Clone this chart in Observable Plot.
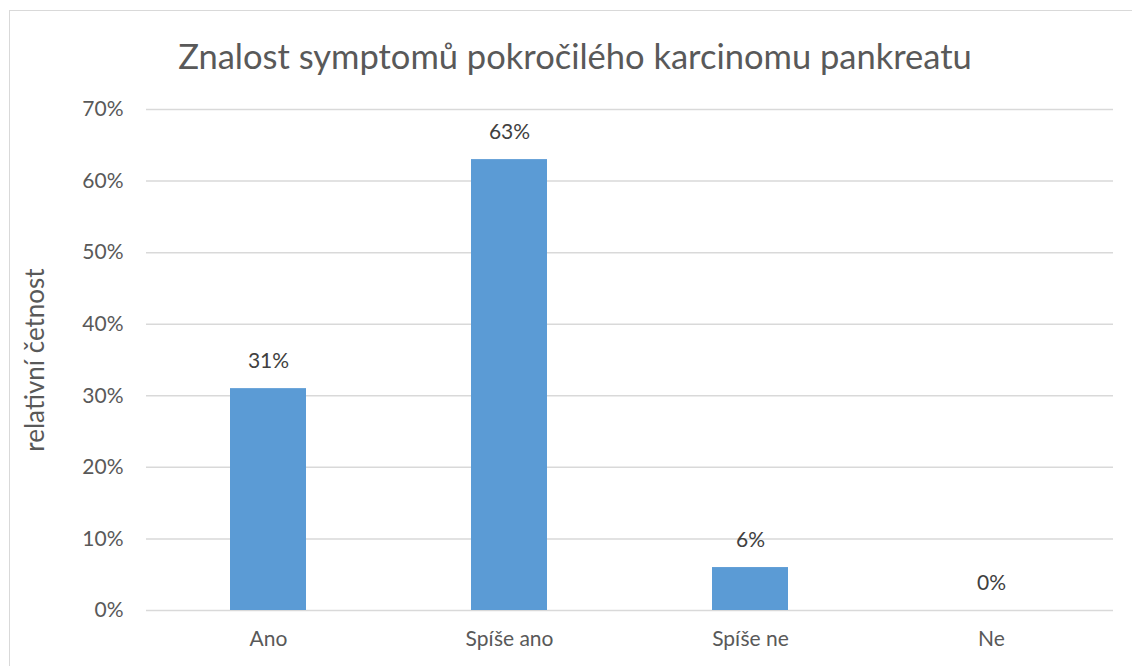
<!DOCTYPE html>
<html>
<head>
<meta charset="utf-8">
<script src="https://cdn.jsdelivr.net/npm/d3@7"></script>
<script src="https://cdn.jsdelivr.net/npm/@observablehq/plot@0.6"></script>
<style>
  html, body { margin: 0; padding: 0; background: #fff; overflow: hidden; }
  body { width: 1132px; height: 666px; position: relative; font-family: Lato, "Open Sans", sans-serif; }
  #frame { position: absolute; left: 9px; top: 10px; width: 1140px; height: 700px; border: 1px solid #d9d9d9; box-sizing: border-box; }
  #title { position: absolute; left: 9px; width: 1132px; top: 35px; text-align: center; font-size: 34.5px; color: #595959; white-space: nowrap; }
  #chart { position: absolute; left: 0; top: 0; }
</style>
</head>
<body>
<div id="frame"></div>
<div id="title">Znalost symptomů pokročilého karcinomu pankreatu</div>
<div id="chart"></div>
<script>
const categories = ["Ano", "Spíše ano", "Spíše ne", "Ne"];
const values = [0.31, 0.63, 0.06, 0.0];
const yTicks = [0, 0.1, 0.2, 0.3, 0.4, 0.5, 0.6, 0.7];
const yLabel = "relativní četnost";

const data = categories.map((c, i) => ({category: c, value: values[i]}));
const pct = d => Math.round(d * 100) + "%";

const plot = Plot.plot({
  width: 1132,
  height: 666,
  marginLeft: 146,
  marginRight: 19,
  marginTop: 109,
  marginBottom: 56,
  style: {fontFamily: "Lato, 'Open Sans', sans-serif", fontSize: "21px", color: "#595959", background: "transparent"},
  x: {domain: categories, paddingInner: 0.686, paddingOuter: 0.343, align: 0.5},
  y: {domain: [0, 0.7]},
  marks: [
    Plot.gridY(yTicks, {stroke: "#d9d9d9", strokeOpacity: 1, strokeWidth: 1.5}),
    Plot.barY(data, {x: "category", y: "value", fill: "#5B9BD5"}),
    Plot.text(data, {x: "category", y: "value", text: d => pct(d.value), dy: -27, fill: "#404040", fontSize: 21}),
    Plot.axisY({ticks: yTicks, tickFormat: pct, tickSize: 0, tickPadding: 23, fill: "#595959", fontSize: 21, label: null}),
    Plot.text([yLabel], {frameAnchor: "left", textAnchor: "middle", dx: -111, rotate: -90, fill: "#595959", fontSize: 26, text: d => d}),
    Plot.axisX({tickSize: 0, tickPadding: 21, fill: "#595959", fontSize: 21, label: null})
  ]
});
document.getElementById("chart").appendChild(plot);
</script>
</body>
</html>
